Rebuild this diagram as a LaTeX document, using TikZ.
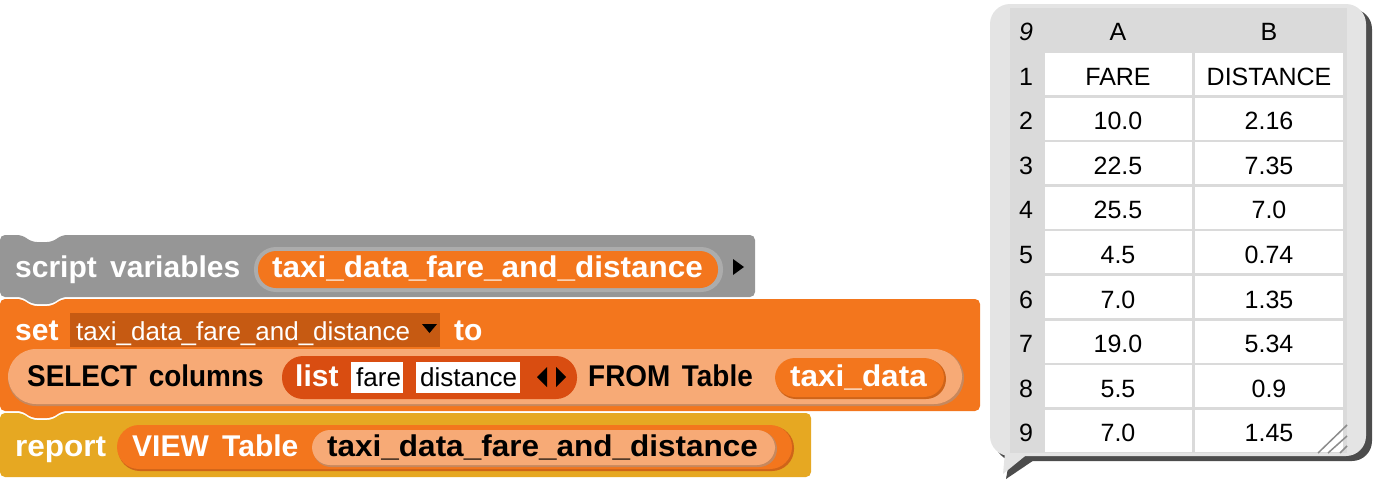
\documentclass[tikz,border=0pt]{standalone}
\usepackage{fontspec}
\setmainfont{Liberation Sans}
\newfontfamily\snapfont[WordSpace=1.6]{Liberation Sans}
\newfontfamily\snapnarrow[WordSpace=1.5,FakeStretch=0.93]{Liberation Sans}
\newfontfamily\snapwide[FakeStretch=1.05]{Liberation Sans}
\usetikzlibrary{positioning}

\definecolor{othergray}{RGB}{150,150,150}
\definecolor{vargray}{RGB}{172,172,172}
\definecolor{varorange}{RGB}{243,118,29}
\definecolor{zebra}{RGB}{247,170,118}
\definecolor{listred}{RGB}{217,77,17}
\definecolor{ctrlyellow}{RGB}{230,168,34}
\definecolor{menuorange}{RGB}{198,90,18}
\definecolor{bubblegray}{RGB}{228,228,228}
\definecolor{tablegray}{RGB}{218,218,218}

% command block: colour, x1, y1, x2, y2, tab at bottom (1) or not (0)
\newcommand{\cmdblock}[6]{%
  \fill[#1, rounded corners=5pt] (#2,#3) -- (22,#3) -- (32,{#3+7}) -- (52,{#3+7})
    -- (62,#3) -- (#4,#3) -- (#4,#5)
    \ifnum#6=1 -- (62,#5) -- (52,{#5+7}) -- (32,{#5+7}) -- (22,#5)\fi
    -- (#2,#5) -- cycle;}

\begin{document}
\begin{tikzpicture}
        [x=1pt,y=-1pt,
         lbl/.style={anchor=base west, inner sep=0pt, text=white,
           font=\snapfont\bfseries\fontsize{30}{30}\selectfont},
         dlbl/.style={lbl, text=black},
         capslbl/.style={dlbl, font=\snapnarrow\bfseries\fontsize{30}{30}\selectfont},
         varlbl/.style={lbl, font=\snapwide\bfseries\fontsize{30}{30}\selectfont},
         slot/.style={anchor=base west, inner sep=0pt,
           font=\fontsize{26}{26}\selectfont},
         cell/.style={anchor=base, inner sep=0pt,
           font=\fontsize{25}{25}\selectfont}]
        \useasboundingbox (0,0) rectangle (1380,488);

        % blocks, lowest first
        \cmdblock{ctrlyellow}{0}{413}{811}{477}{0}
        \cmdblock{varorange}{0}{299}{980}{411}{1}
        \cmdblock{othergray}{0}{235}{755}{297}{1}

        % script variables
        \node[lbl] (scriptvars) at (15,277) {script variables};
        \fill[vargray, rounded corners=22pt] (254,247) rectangle (723,292);
        \fill[varorange, rounded corners=18pt] (258,251) rectangle (718,288);
        \node[varlbl] (varname) at (272,277) {taxi\_data\_fare\_and\_distance};
        \fill[black] (733,259) -- (744,267) -- (733,275) -- cycle;

        % set ... to
        \node[lbl] (set) at (15,340) {set};
        \fill[menuorange] (70,313) rectangle (440,347);
        \node[slot, text=white] (setvar) at (76,340) {taxi\_data\_fare\_and\_distance};
        \fill[black] (422,324) -- (437,324) -- (429.5,333) -- cycle;
        \node[lbl] (to) at (454,340) {to};

        % SELECT columns reporter
        \fill[zebra!80!black, rounded corners=28pt] (8,350) rectangle (964,406);
        \fill[zebra, rounded corners=28pt] (8,349) rectangle (962,404);
        \node[capslbl] (select) at (27,386) {SELECT columns};
        \fill[listred, rounded corners=21pt] (282,356) rectangle (577,399);
        \node[lbl] (list) at (295,386) {list};
        \fill[white] (351,362) rectangle (403,393);
        \node[slot] (fare) at (356,386) {fare};
        \fill[white] (416,362) rectangle (520,393);
        \node[slot] (distance) at (420,386) {distance};
        \fill[black] (537,377) -- (547,367) -- (547,387) -- cycle;
        \fill[black] (566,377) -- (556,367) -- (556,387) -- cycle;
        \node[capslbl] (from) at (588,386) {FROM Table};
        \fill[varorange!85!black, rounded corners=20pt] (776,359) rectangle (946,399);
        \fill[varorange, rounded corners=20pt] (775,358) rectangle (944,397);
        \node[varlbl] (tablevar) at (790,386) {taxi\_data};

        % report VIEW Table
        \node[varlbl] (report) at (15,456) {report};
        \fill[varorange!85!black, rounded corners=22pt] (118,426) rectangle (794,471);
        \fill[varorange, rounded corners=22pt] (117,425) rectangle (792,469);
        \node[lbl] (view) at (132,456) {VIEW Table};
        \fill[zebra!80!black, rounded corners=18pt] (313,431) rectangle (777,467);
        \fill[zebra, rounded corners=18pt] (312,430) rectangle (775,465);
        \node[varlbl, text=black] (viewvar) at (327,456) {taxi\_data\_fare\_and\_distance};

        % table bubble
        \fill[black!70, rounded corners=20pt] (995,9) rectangle (1372,461);
        \fill[black!70] (1010,456) -- (1006,479) -- (1040,456) -- cycle;
        \fill[bubblegray, rounded corners=20pt] (990,4) rectangle (1366,456);
        \fill[bubblegray] (1005,452) -- (1003,474) -- (1030,452) -- cycle;
        \fill[tablegray] (1010,8) rectangle (1347,453);
        \foreach \r in {1,...,9} {
          \pgfmathsetmacro{\top}{53+(\r-1)*44.6}
          \fill[white] (1045,\top) rectangle (1192,{\top+42});
          \fill[white] (1195,\top) rectangle (1343,{\top+42});
        }
        \node[cell] (corner) at (1026,40) {\itshape 9};
        \node[cell] (colA) at (1118,40) {A};
        \node[cell] (colB) at (1269,40) {B};
        \foreach \r/\fa/\di in {1/FARE/DISTANCE, 2/10.0/2.16, 3/22.5/7.35,
            4/25.5/7.0, 5/4.5/0.74, 6/7.0/1.35, 7/19.0/5.34, 8/5.5/0.9, 9/7.0/1.45} {
          \pgfmathsetmacro{\base}{85+(\r-1)*44.6}
          \node[cell] (n\r) at (1026,\base) {\r};
          \node[cell] (a\r) at (1118,\base) {\fa};
          \node[cell] (b\r) at (1269,\base) {\di};
        }
        % resize handle
        \draw[black!45, line width=1.5pt] (1318,453) -- (1347,425)
          (1328,453) -- (1347,436) (1340,453) -- (1347,446);
      \end{tikzpicture}
\end{document}
